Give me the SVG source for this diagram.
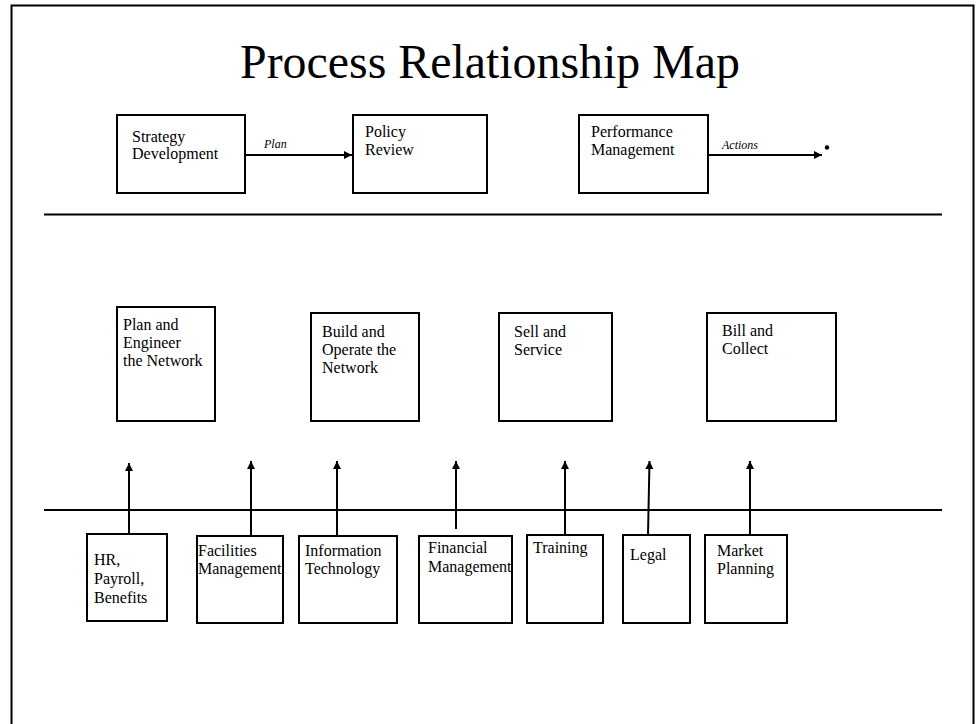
<svg xmlns="http://www.w3.org/2000/svg" width="979" height="724" viewBox="0 0 979 724">
<defs>
<marker id="ah" viewBox="0 0 10 10" refX="10" refY="5" markerWidth="8" markerHeight="8" markerUnits="userSpaceOnUse" orient="auto">
<path d="M0,0 L10,5 L0,10 z" fill="#000"/>
</marker>
<style>
.box{fill:#fff;stroke:#000;stroke-width:2}
.t{font-family:"Liberation Serif","Times New Roman",serif;font-size:16px;fill:#000}
.lbl{font-family:"Liberation Serif","Times New Roman",serif;font-size:12px;font-style:italic;fill:#000}
.ln{stroke:#000;stroke-width:2;fill:none}
.ar{stroke:#000;stroke-width:2;fill:none;marker-end:url(#ah)}
</style>
</defs>
<rect width="979" height="724" fill="#fff"/>
<path d="M11.5,724 V5.5 H973.5 V724" class="ln"/>
<text x="490" y="78" text-anchor="middle" font-family="'Liberation Serif','Times New Roman',serif" font-size="48" fill="#000" textLength="500" lengthAdjust="spacingAndGlyphs">Process Relationship Map</text>
<line x1="44" y1="214.5" x2="942" y2="214.5" class="ln"/>
<line x1="44" y1="510" x2="942" y2="510" class="ln"/>

<g id="strategy"><rect x="117" y="115" width="128" height="78" class="box"/><text class="t" x="132" y="142">Strategy</text><text class="t" x="132" y="159">Development</text></g>
<g id="policy"><rect x="353" y="115" width="134" height="78" class="box"/><text class="t" x="365" y="137">Policy</text><text class="t" x="365" y="155">Review</text></g>
<g id="performance"><rect x="579" y="115" width="129" height="78" class="box"/><text class="t" x="591" y="137">Performance</text><text class="t" x="591" y="155">Management</text></g>
<circle cx="827" cy="147.5" r="2.2" fill="#000"/>

<g id="plan-eng"><rect x="117" y="307" width="98" height="114" class="box"/><text class="t" x="123" y="330">Plan and</text><text class="t" x="123" y="348">Engineer</text><text class="t" x="123" y="366">the Network</text></g>
<g id="build"><rect x="311" y="313" width="108" height="108" class="box"/><text class="t" x="322" y="337">Build  and</text><text class="t" x="322" y="355">Operate the</text><text class="t" x="322" y="373">Network</text></g>
<g id="sell"><rect x="499" y="313" width="113" height="108" class="box"/><text class="t" x="514" y="337">Sell and</text><text class="t" x="514" y="355">Service</text></g>
<g id="bill"><rect x="707" y="313" width="129" height="108" class="box"/><text class="t" x="722" y="336">Bill and</text><text class="t" x="722" y="354">Collect</text></g>

<g id="hr"><rect x="87" y="534" width="80" height="87" class="box"/><text class="t" x="94" y="565">HR,</text><text class="t" x="94" y="584">Payroll,</text><text class="t" x="94" y="603">Benefits</text></g>
<g id="facilities"><rect x="197" y="536" width="86" height="87" class="box"/><text class="t" x="198" y="556">Facilities</text><text class="t" x="198" y="574">Management</text></g>
<g id="it"><rect x="299" y="536" width="98" height="87" class="box"/><text class="t" x="305" y="556">Information</text><text class="t" x="305" y="574">Technology</text></g>
<g id="financial"><rect x="419" y="536" width="93" height="87" class="box"/><text class="t" x="428" y="553">Financial</text><text class="t" x="428" y="572">Management</text></g>
<g id="training"><rect x="527" y="535" width="76" height="88" class="box"/><text class="t" x="533" y="553">Training</text></g>
<g id="legal"><rect x="623" y="535" width="67" height="88" class="box"/><text class="t" x="630" y="560">Legal</text></g>
<g id="market"><rect x="705" y="535" width="82" height="88" class="box"/><text class="t" x="717" y="556">Market</text><text class="t" x="717" y="574">Planning</text></g>

<g id="connectors">
<line x1="245" y1="155" x2="352" y2="155" class="ar"/>
<text class="lbl" x="264" y="148">Plan</text>
<line x1="708" y1="155" x2="822" y2="155" class="ar"/>
<text class="lbl" x="722" y="149">Actions</text>
<line x1="129" y1="534" x2="129" y2="463" class="ar"/>
<line x1="251" y1="536" x2="251" y2="461" class="ar"/>
<line x1="337" y1="536" x2="337" y2="461" class="ar"/>
<line x1="456" y1="529" x2="456" y2="461" class="ar"/>
<line x1="565" y1="535" x2="565" y2="461" class="ar"/>
<line x1="648" y1="535" x2="649.5" y2="461" class="ar"/>
<line x1="750" y1="535" x2="750" y2="461" class="ar"/>
</g>
</svg>
